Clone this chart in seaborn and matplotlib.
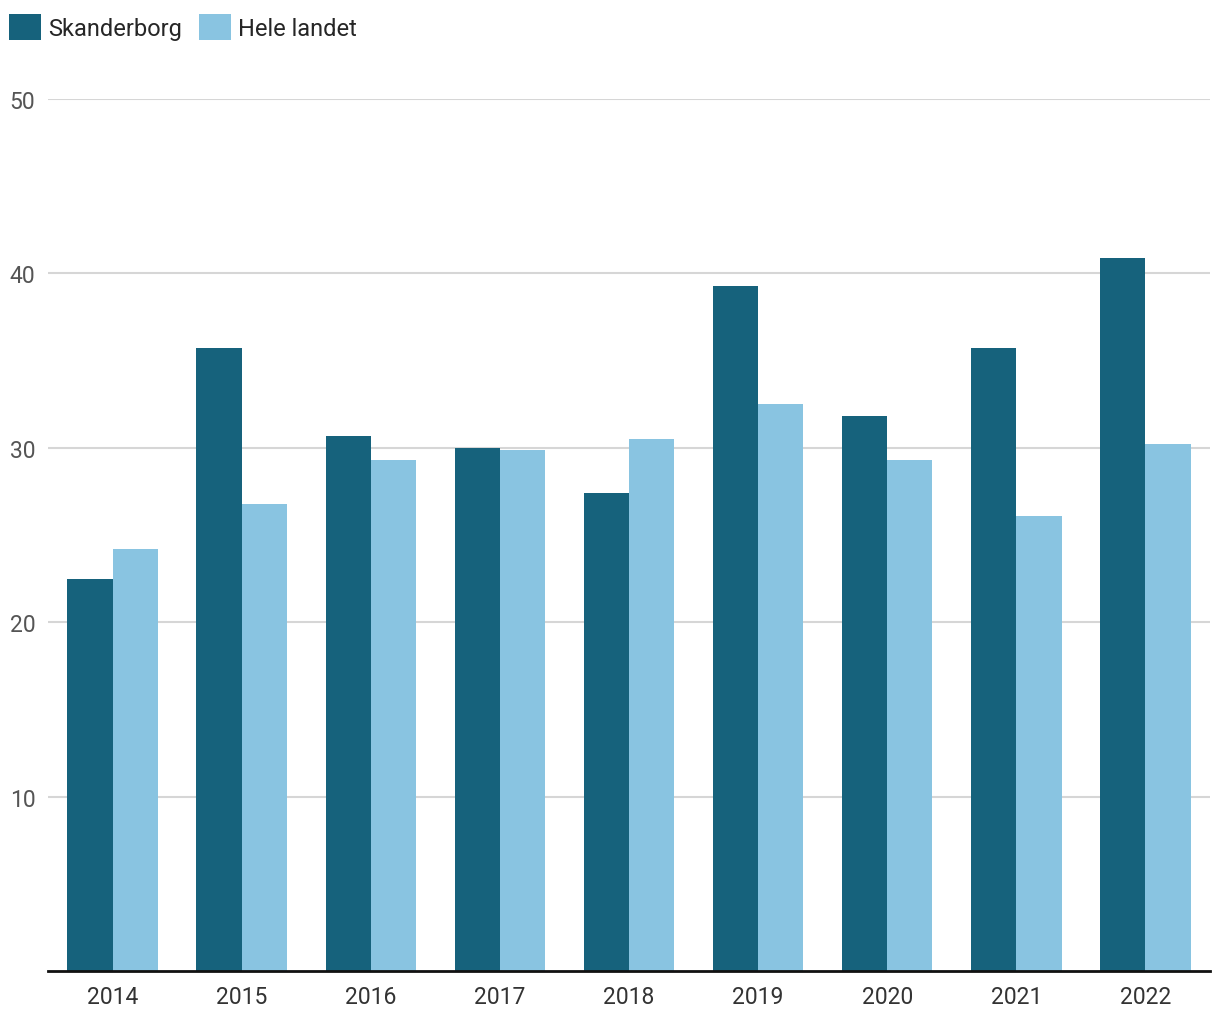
import pandas as pd
import seaborn as sns
import matplotlib.pyplot as plt
from matplotlib.patches import Patch

years = ["2014", "2015", "2016", "2017", "2018", "2019", "2020", "2021", "2022"]
skanderborg = [22.5, 35.7, 30.7, 30.0, 27.4, 39.3, 31.8, 35.7, 40.9]
hele_landet = [24.2, 26.8, 29.3, 29.9, 30.5, 32.5, 29.3, 26.1, 30.2]
series_names = ["Skanderborg", "Hele landet"]
colors = ["#16627c", "#89c4e1"]

df = pd.DataFrame({
    "year": years * 2,
    "value": skanderborg + hele_landet,
    "serie": [series_names[0]] * len(years) + [series_names[1]] * len(years),
})

sns.set_style("white")
plt.rcParams["font.family"] = ["Roboto", "DejaVu Sans"]

fig = plt.figure(figsize=(12.2, 10.2), dpi=100)
ax = fig.add_axes([0.0393, 0.047, 0.9525, 0.855])

sns.barplot(data=df, x="year", y="value", hue="serie", palette=colors,
            width=0.7, saturation=1, ax=ax, legend=False, linewidth=0)

ax.set_xlim(-0.5, 8.5)
ax.set_ylim(0, 50)
ax.set_yticks([10, 20, 30, 40, 50])
ax.yaxis.grid(True, color="#d6d6d6", linewidth=1.5)
ax.set_axisbelow(True)
ax.set_xlabel("")
ax.set_ylabel("")
for s in ["top", "right", "left"]:
    ax.spines[s].set_visible(False)
ax.spines["bottom"].set_color("#111111")
ax.spines["bottom"].set_linewidth(2)
ax.tick_params(axis="x", length=0, labelsize=16.5, labelcolor="#333333", pad=10)
ax.tick_params(axis="y", length=0, labelsize=16.5, labelcolor="#555555", pad=0)
for lab in ax.get_yticklabels():
    lab.set_horizontalalignment("left")
    lab.set_x(-0.033)

handles = [Patch(facecolor=c, edgecolor="none", linewidth=0) for c in colors]
fig.legend(handles, series_names, loc="upper left", bbox_to_anchor=(0.0, 0.995),
           ncol=2, frameon=False, fontsize=17, handlelength=1.35, handleheight=1.35,
           handletextpad=0.3, columnspacing=0.7, borderaxespad=0.0, borderpad=0.4)

fig.savefig("out.png", dpi=100)
